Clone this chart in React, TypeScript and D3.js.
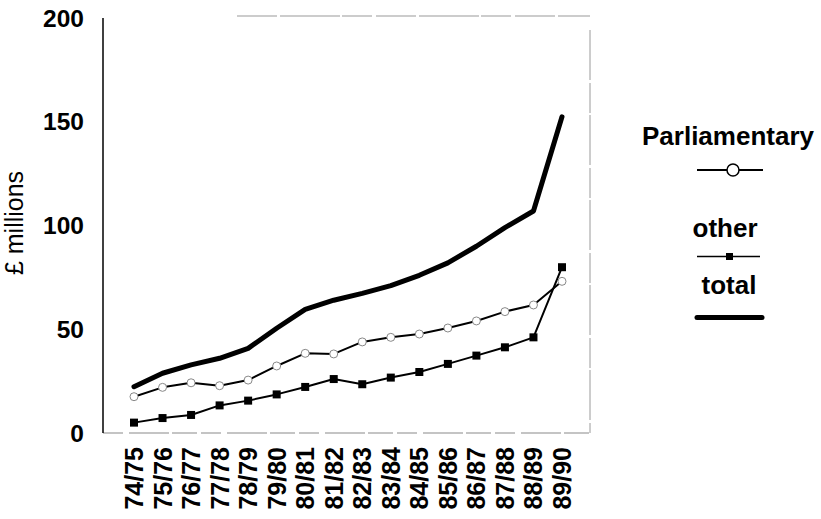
import React from "react";
import * as d3 from "d3";

const categories = ["74/75","75/76","76/77","77/78","78/79","79/80","80/81","81/82","82/83","83/84","84/85","85/86","86/87","87/88","88/89","89/90"];
const parliamentary = [17.5,22,24.2,22.8,25.5,32.3,38.4,38.1,43.9,46.1,47.7,50.6,54,58.5,61.7,73.1];
const other = [5,7.2,8.7,13.3,15.6,18.6,22.2,26,23.5,26.7,29.4,33.3,37.3,41.3,46.1,79.9];
const total = [22.3,28.8,32.8,36,40.8,50.5,59.6,64,67.3,71,76,82,90,99,107,152.4];
const yTicks = [0,50,100,150,200];
const legendLabels = ["Parliamentary","other","total"];

const W = 821, H = 519;
const plotLeft = 103, plotRight = 590, plotTop = 18, plotBottom = 433;
const font = "'Liberation Sans', Arial, Helvetica, sans-serif";

export default function App() {
  const x = d3.scalePoint<string>().domain(categories).range([plotLeft + 31, plotRight - 28]);
  const y = d3.scaleLinear().domain([0, 200]).range([plotBottom, plotTop]);
  const line = d3.line<number>().x((_, i) => x(categories[i]) as number).y(d => y(d));

  return (
    <svg width={W} height={H} style={{ position: "absolute", left: 0, top: 0, background: "#fff" }} fontFamily={font}>
      <rect x={0} y={0} width={W} height={H} fill="#fff" />
      {/* frame (scanned look) */}
      <line x1={237} x2={plotRight} y1={16} y2={16} stroke="#9a9a9a" strokeWidth={1.2} strokeDasharray="40 3 60 2 30 4" />
      <line x1={plotRight} x2={plotRight} y1={30} y2={plotBottom} stroke="#9a9a9a" strokeWidth={1} strokeDasharray="50 3 30 2" />
      <line x1={plotLeft} x2={plotRight} y1={plotBottom} y2={plotBottom} stroke="#8a8a8a" strokeWidth={1.2} strokeDasharray="20 6 40 3 25 4" />
      <line x1={plotLeft} x2={plotLeft} y1={plotTop} y2={plotBottom} stroke="#000" strokeWidth={1.5} />

      {/* y tick labels */}
      {yTicks.map(t => (
        <text key={t} x={84} y={y(t)} dy="0.35em" textAnchor="end" fontSize={24.5} fontWeight="bold" fill="#000">{t}</text>
      ))}
      {/* y title */}
      <text transform={`translate(23,${223}) rotate(-90)`} textAnchor="middle" fontSize={25} fill="#000">£ millions</text>

      {/* x tick labels */}
      {categories.map(c => (
        <text key={c} transform={`translate(${x(c) as number},${plotBottom + 14}) rotate(-90)`} dy="0.36em" textAnchor="end" fontSize={25} fontWeight="bold" fill="#000">{c}</text>
      ))}

      {/* series */}
      <path d={line(total) || ""} fill="none" stroke="#000" strokeWidth={5} strokeLinejoin="round" strokeLinecap="round" />
      <path d={line(parliamentary) || ""} fill="none" stroke="#000" strokeWidth={2} strokeLinejoin="round" />
      <path d={line(other) || ""} fill="none" stroke="#000" strokeWidth={2} strokeLinejoin="round" />
      {parliamentary.map((v, i) => (
        <circle key={"p" + i} cx={x(categories[i]) as number} cy={y(v)} r={4} fill="#fff" stroke="#888" strokeWidth={1} />
      ))}
      {other.map((v, i) => (
        <rect key={"o" + i} x={(x(categories[i]) as number) - 4} y={y(v) - 4} width={8} height={8} fill="#000" />
      ))}

      {/* legend */}
      <text x={728} y={145} textAnchor="middle" fontSize={26} fontWeight="bold" fill="#000">{legendLabels[0]}</text>
      <line x1={697} x2={763} y1={170} y2={170} stroke="#000" strokeWidth={2} />
      <circle cx={733} cy={170} r={6} fill="#fff" stroke="#000" strokeWidth={1.5} />
      <text x={725} y={236.5} textAnchor="middle" fontSize={26} fontWeight="bold" fill="#000">{legendLabels[1]}</text>
      <line x1={697} x2={760} y1={256.5} y2={256.5} stroke="#000" strokeWidth={1.5} />
      <rect x={726} y={253} width={7} height={7} fill="#000" />
      <text x={729} y={293.5} textAnchor="middle" fontSize={26} fontWeight="bold" fill="#000">{legendLabels[2]}</text>
      <line x1={697} x2={762} y1={317.5} y2={317.5} stroke="#000" strokeWidth={5} strokeLinecap="round" />
    </svg>
  );
}
